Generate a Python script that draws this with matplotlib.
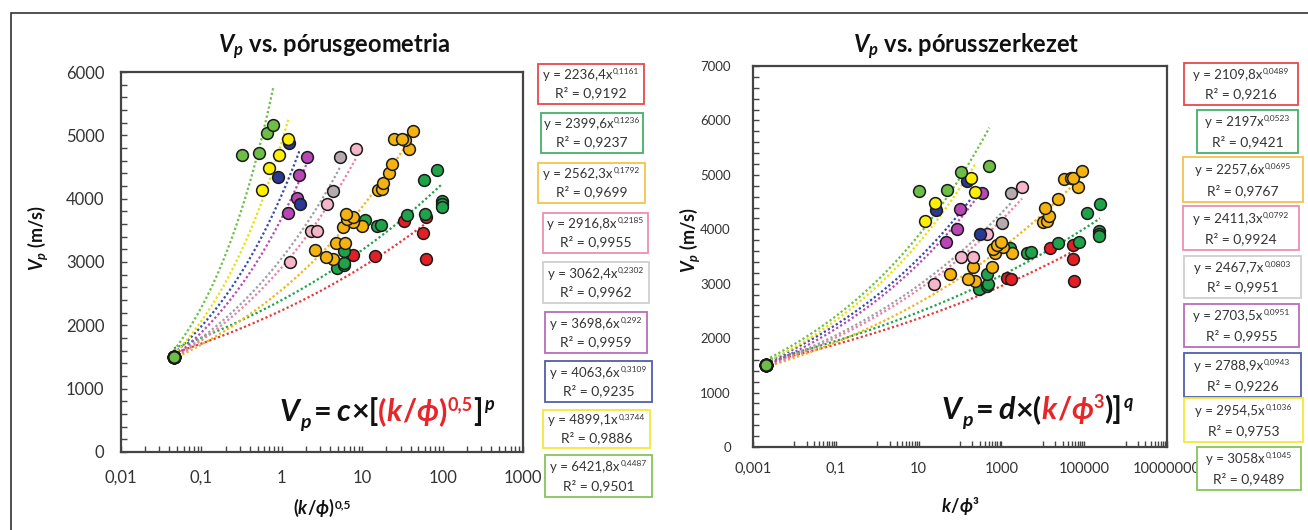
import numpy as np
import matplotlib
matplotlib.use("Agg")
import matplotlib.pyplot as plt
from matplotlib.ticker import MultipleLocator, FixedLocator, FuncFormatter, LogLocator, NullFormatter
from matplotlib.transforms import IdentityTransform
from matplotlib.patches import Rectangle

FAM = ["Lato", "DejaVu Sans"]
plt.rcParams["font.family"] = FAM
plt.rcParams["mathtext.fontset"] = "custom"
plt.rcParams["mathtext.it"] = "Lato:italic:bold"
plt.rcParams["mathtext.rm"] = "Lato:bold"
plt.rcParams["mathtext.bf"] = "Lato:bold"

# --- adatok (Vp, (k/phi)^0.5 es k/phi^3 csoportonkent) ---
anchor_geo = 0.0456
anchor_str = 0.00206
anchor_vp = 1500

red_vp = [3110, 3095, 3650, 3455, 3705, 3045]
red_geo = [7.6, 14.4, 33.4, 57.5, 61.6, 62.2]
red_str = [1400, 1706, 14900, 53700, 55000, 58300]

green_vp = [2900, 2950, 2990, 3170, 3665, 3565, 3590, 3740, 4295, 3762, 4460, 3965, 3920, 3870]
green_geo = [4.9, 5.89, 5.94, 6.0, 10.8, 15.4, 17.0, 35.7, 59.2, 59.7, 84.2, 98, 99.5, 99.5]
green_str = [295, 440, 482, 455, 1615, 4080, 5100, 22900, 120000, 74000, 241000, 228000, 228000, 228000]

orange_vp = [3050, 3080, 3185, 3300, 3305, 3560, 3566, 3630, 3680, 3716, 3760,
             4140, 4152, 4250, 4398, 4548, 4780, 4930, 4940, 4948, 5068]
orange_geo = [4.37, 3.51, 2.61, 4.72, 6.17, 5.72, 9.84, 7.74, 6.4, 7.6, 6.28,
              15.9, 17.6, 18.3, 21.7, 23.5, 38.2, 34, 25.1, 31.5, 42.4]
orange_str = [230, 158, 58, 580, 209, 700, 1778, 638, 1122, 800, 977,
              10000, 12400, 14400, 11100, 22900, 70000, 33300, 47300, 55000, 87500]

pink_vp = [2995, 3490, 3482, 3917, 4786]
pink_geo = [1.26, 2.28, 2.74, 3.61, 8.45]
pink_str = [23.5, 106, 209, 440, 3150]

grey_vp = [4121, 4660]
grey_geo = [4.37, 5.3]
grey_str = [1033, 1706]

purple_vp = [3768, 4008, 4373, 4658]
purple_geo = [1.2, 1.53, 1.62, 2.04]
purple_str = [45.9, 83, 100, 334]

blue_vp = [4350, 4882, 3912]
blue_geo = [0.89, 1.24, 1.68]
blue_str = [26.3, 150, 304]

yellow_vp = [4144, 4484, 4685, 4939]
yellow_geo = [0.573, 0.687, 0.93, 1.2]
yellow_str = [14.3, 25.4, 230, 184]

lgreen_vp = [4695, 4725, 5044, 5168]
lgreen_geo = [0.32, 0.525, 0.65, 0.785]
lgreen_str = [10, 47.6, 106, 511]

# illesztett hatvanyfuggvenyek (y = c*x^p)
geo_c = [2236.4, 2399.6, 2562.3, 2916.8, 3062.4, 3698.6, 4063.6, 4899.1, 6421.8]
geo_p = [0.1161, 0.1236, 0.1792, 0.2185, 0.2302, 0.292, 0.3109, 0.3744, 0.4487]
geo_r2 = [0.9192, 0.9237, 0.9699, 0.9955, 0.9962, 0.9959, 0.9235, 0.9886, 0.9501]
str_c = [2109.8, 2197, 2257.6, 2411.3, 2467.7, 2703.5, 2788.9, 2954.5, 3058]
str_p = [0.0489, 0.0523, 0.0695, 0.0792, 0.0803, 0.0951, 0.0943, 0.1036, 0.1045]
str_r2 = [0.9216, 0.9421, 0.9767, 0.9924, 0.9951, 0.9955, 0.9226, 0.9753, 0.9489]

fill_colors = ["#E31E24", "#1FA34A", "#F5B30F", "#F4B6C8", "#B5ABAF",
               "#B847B5", "#2B3990", "#FFF000", "#6CBE45"]
line_colors = ["#E8383B", "#1FA34A", "#F5B30F", "#EC7FA7", "#9E9E9E",
               "#B847B5", "#3A4AA8", "#EDE000", "#6CBE45"]
box_colors = ["#E8484B", "#45B06A", "#F6C24E", "#EE8FB0", "#CFCFCF",
              "#B66DBA", "#5060A8", "#F3E838", "#86C55A"]

groups_vp = [red_vp, green_vp, orange_vp, pink_vp, grey_vp, purple_vp, blue_vp, yellow_vp, lgreen_vp]
groups_geo = [red_geo, green_geo, orange_geo, pink_geo, grey_geo, purple_geo, blue_geo, yellow_geo, lgreen_geo]
groups_str = [red_str, green_str, orange_str, pink_str, grey_str, purple_str, blue_str, yellow_str, lgreen_str]

W, H = 1308, 530
fig = plt.figure(figsize=(W / 100, H / 100), dpi=100)
rend = fig.canvas.get_renderer()
TXT = "#333333"


def put(x, y, s, **kw):
    # x, y kepernyo pixelben, y felulrol merve
    return fig.text(x, H - y, s, transform=IdentityTransform(), **kw)


def rich(x, y, parts, ha="left"):
    cur = x
    arts = []
    for s, size, color, weight, style, dy, gap in parts:
        t = put(cur, y - dy, s, fontsize=size, color=color, fontweight=weight,
                fontstyle=style, va="baseline", ha="left", family=FAM)
        bb = t.get_window_extent(renderer=rend)
        cur = bb.x1 + gap
        arts.append(t)
    if ha == "center":
        shift = (cur - x) / 2
        for t in arts:
            px, py = t.get_position()
            t.set_position((px - shift, py))
    return arts


def num(v):
    return str(v).replace(".", ",")


def tick_fmt(v, pos):
    if v >= 1:
        return f"{v:.0f}"
    return f"{v:g}".replace(".", ",")


def make_axes(rect, ymax, xlim, ysize, xsize, ypad, xpad):
    l, t, w, h = rect
    ax = fig.add_axes([l / W, (H - t - h) / H, w / W, h / H])
    ax.set_xscale("log")
    ax.set_xlim(*xlim)
    ax.set_ylim(0, ymax)
    ax.yaxis.set_major_locator(MultipleLocator(1000))
    ax.yaxis.set_minor_locator(MultipleLocator(200))
    for sp in ax.spines.values():
        sp.set_color("#444444")
        sp.set_linewidth(1.6)
    ax.tick_params(which="both", direction="in", length=4, width=1, color="#444444",
                   top=False, right=False, labelcolor=TXT)
    ax.tick_params(axis="y", which="major", labelsize=ysize, pad=ypad)
    ax.tick_params(axis="x", which="major", labelsize=xsize, pad=xpad)
    ax.xaxis.set_major_formatter(FuncFormatter(tick_fmt))
    ax.xaxis.set_minor_formatter(NullFormatter())
    return ax


ax1 = make_axes((121, 72, 402, 380), 6000, (0.01, 1000), 12, 12, 12, 13)
ax1.xaxis.set_major_locator(LogLocator(base=10, numticks=10))
ax1.xaxis.set_minor_locator(LogLocator(base=10, subs=np.arange(2, 10), numticks=20))

ax2 = make_axes((753, 66, 414, 381), 7000, (0.001, 1e7), 9.5, 10.5, 16, 11)
ax2.xaxis.set_major_locator(FixedLocator([1e-3, 1e-1, 1e1, 1e3, 1e5, 1e7]))
ax2.xaxis.set_minor_locator(FixedLocator([m * 10.0 ** k for k in (-2, 0, 2, 4, 6) for m in range(1, 10)]))


def draw_panel(ax, xs_groups, anchor_x, cs, ps):
    for i in range(len(xs_groups)):
        xmax = max(xs_groups[i])
        xx = np.logspace(np.log10(anchor_x), np.log10(xmax), 80)
        ax.plot(xx, cs[i] * xx ** ps[i], ls=(0, (1, 1.1)), lw=1.6,
                color=line_colors[i], zorder=2)
    for i in range(len(xs_groups)):
        ax.scatter(xs_groups[i], groups_vp[i], s=72, color=fill_colors[i],
                   edgecolors="#1a1a1a", linewidths=1.1, zorder=3)
        ax.scatter([anchor_x], [anchor_vp], s=72, color=fill_colors[i],
                   edgecolors="#1a1a1a", linewidths=1.4, zorder=3)


draw_panel(ax1, groups_geo, anchor_geo, geo_c, geo_p)
draw_panel(ax2, groups_str, anchor_str, str_c, str_p)

# kulso keret
fig.add_artist(Rectangle((11, -20), W + 20, H - 13 + 20, transform=IdentityTransform(),
                         fill=False, ec="#333333", lw=1.2))

# cimek
put(334, 53, r"$V_p$ vs. pórusgeometria", fontsize=17, fontweight="bold",
    ha="center", va="baseline", color="#111111")
put(966, 53, r"$V_p$ vs. pórusszerkezet", fontsize=17, fontweight="bold",
    ha="center", va="baseline", color="#111111")

# tengelyfeliratok
put(38, 238, r"$V_p$ (m/s)", fontsize=13, fontweight="bold", rotation=90,
    ha="center", va="center", color="#111111")
put(690, 240, r"$V_p$ (m/s)", fontsize=13, fontweight="bold", rotation=90,
    ha="center", va="center", color="#111111")

K = "#111111"
rich(322, 514, [("(", 13, K, "bold", "normal", 0, 0),
                ("k", 13, K, "bold", "italic", 0, 0),
                ("/", 13, K, "bold", "normal", 0, 0),
                ("ϕ", 13, K, "bold", "italic", 0, 0),
                (")", 13, K, "bold", "normal", 0, 1),
                ("0,5", 8.5, K, "bold", "normal", 6, 0)], ha="center")
rich(960, 512, [("k", 13, K, "bold", "italic", 0, 0),
                ("/", 13, K, "bold", "normal", 0, 0),
                ("ϕ", 13, K, "bold", "italic", 0, 0),
                ("³", 13, K, "bold", "normal", 0, 0)], ha="center")

# keplet a rajzteruleten
R = "#E8262A"
BIG = 22
rich(280, 421, [("V", BIG, K, "bold", "italic", 0, 0),
                ("p", 14, K, "bold", "italic", -7, 4),
                ("=", BIG, K, "bold", "normal", 0, 4),
                ("c", BIG, K, "bold", "italic", 0, 1),
                ("×[", BIG, K, "bold", "normal", 0, 0),
                ("(", BIG, R, "bold", "normal", 0, 0),
                ("k", BIG, R, "bold", "italic", 0, 0),
                ("/", BIG, R, "bold", "normal", 0, 0),
                ("ϕ", BIG, R, "bold", "italic", 0, 0),
                (")", BIG, R, "bold", "normal", 0, 1),
                ("0,5", 13, R, "bold", "normal", 11, 1),
                ("]", BIG, K, "bold", "normal", 0, 1),
                ("p", 13, K, "bold", "italic", 11, 0)])
rich(942, 419, [("V", BIG, K, "bold", "italic", 0, 0),
                ("p", 14, K, "bold", "italic", -7, 4),
                ("=", BIG, K, "bold", "normal", 0, 4),
                ("d", BIG, K, "bold", "italic", 0, 1),
                ("×(", BIG, K, "bold", "normal", 0, 0),
                ("k", BIG, R, "bold", "italic", 0, 0),
                ("/", BIG, R, "bold", "normal", 0, 0),
                ("ϕ", BIG, R, "bold", "italic", 0, 0),
                ("3", 13, R, "bold", "normal", 11, 1),
                (")]", BIG, K, "bold", "normal", 0, 1),
                ("q", 13, K, "bold", "italic", 11, 0)])

# egyenlet-dobozok
geo_boxes = [(538, 64, 106, 40), (541, 113, 102, 40), (538, 163, 107, 40),
             (543, 213, 105, 40), (543, 262, 106, 41), (545, 312, 102, 41),
             (545, 361, 107, 41), (543, 410, 107, 38), (545, 455, 107, 42)]
str_boxes = [(1184, 63, 114, 42), (1197, 110, 101, 43), (1183, 157, 120, 45),
             (1183, 206, 116, 44), (1184, 256, 117, 42), (1184, 304, 115, 43),
             (1184, 353, 117, 44), (1184, 398, 119, 44), (1197, 447, 104, 43)]


def draw_boxes(boxes, cs, ps, r2s):
    for i, (bx, by, bw, bh) in enumerate(boxes):
        fig.add_artist(Rectangle((bx, H - by - bh), bw, bh, transform=IdentityTransform(),
                                 fc="white", ec=box_colors[i], lw=1.3))
        cx = bx + bw / 2
        rich(cx, by + bh * 0.38, [("y = " + num(cs[i]) + "x", 9.5, TXT, "normal", "normal", 0, 0.5),
                                   (num(ps[i]), 6, TXT, "normal", "normal", 5, 0)], ha="center")
        rich(cx, by + bh * 0.84, [("R² = " + num(r2s[i]), 10, TXT, "normal", "normal", 0, 0)],
             ha="center")


draw_boxes(geo_boxes, geo_c, geo_p, geo_r2)
draw_boxes(str_boxes, str_c, str_p, str_r2)

fig.savefig("out.png", dpi=100)
